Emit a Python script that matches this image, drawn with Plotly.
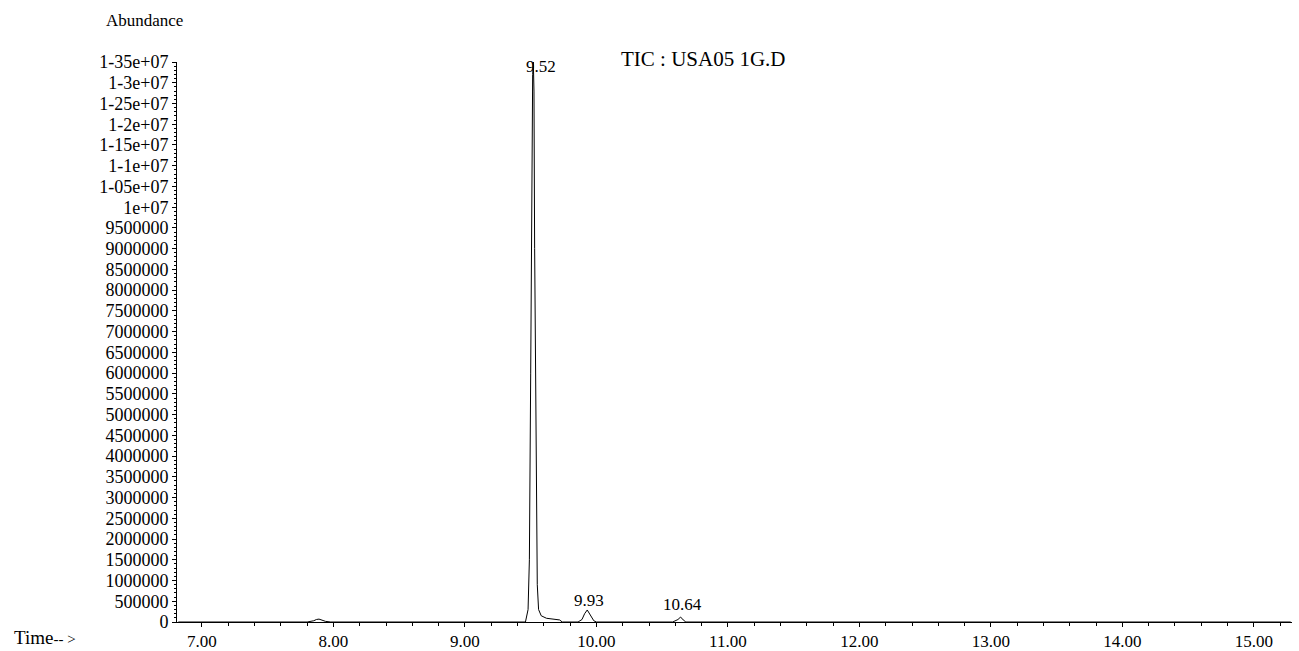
import plotly.graph_objects as go

# Chromatogram trace (time in min, abundance)
time_min = [6.82, 7.80, 7.85, 7.87, 7.89, 7.91, 7.94, 7.98, 9.40, 9.46, 9.48, 9.49, 9.50,
            9.51, 9.515, 9.52, 9.525, 9.53, 9.54, 9.55, 9.56, 9.58, 9.62, 9.68, 9.72, 9.74,
            9.86, 9.89, 9.91, 9.93, 9.95, 9.98, 10.00, 10.58, 10.62, 10.64, 10.66, 10.68,
            11.00, 12.00, 13.00, 14.00, 15.00, 15.28]
abundance = [0, 0, 30000, 60000, 70000, 40000, 15000, 0, 0, 0, 300000, 1500000, 6000000,
             11500000, 13200000, 13500000, 12800000, 9000000, 3500000, 900000, 300000,
             150000, 90000, 60000, 50000, 0,
             0, 60000, 200000, 290000, 180000, 30000, 0, 0, 60000, 120000, 50000, 0,
             0, 0, 0, 0, 0, 0]

peak_times = [9.52, 9.93, 10.64]
peak_labels = ["9.52", "9.93", "10.64"]
peak_label_heights = [13400000, 520000, 410000]

x_tick_vals = [7, 8, 9, 10, 11, 12, 13, 14, 15]
x_tick_text = ["7.00", "8.00", "9.00", "10.00", "11.00", "12.00", "13.00", "14.00", "15.00"]

y_tick_vals = [i * 500000 for i in range(28)]
y_tick_text = ["0", "500000", "1000000", "1500000", "2000000", "2500000", "3000000",
               "3500000", "4000000", "4500000", "5000000", "5500000", "6000000", "6500000",
               "7000000", "7500000", "8000000", "8500000", "9000000", "9500000", "1e+07",
               "1-05e+07", "1-1e+07", "1-15e+07", "1-2e+07", "1-25e+07", "1-3e+07", "1-35e+07"]

FONT = "Liberation Serif"

fig = go.Figure()
fig.add_trace(go.Scatter(x=time_min, y=abundance, mode="lines",
                         line=dict(color="black", width=1), showlegend=False,
                         hoverinfo="x+y"))

for t, lab, h in zip(peak_times, peak_labels, peak_label_heights):
    fig.add_annotation(x=t, y=h, xref="x", yref="y", text=lab, showarrow=False,
                       xanchor="center", yanchor="middle",
                       xshift=8 if lab == "9.52" else 2,
                       font=dict(family=FONT, size=17, color="black"))

fig.add_annotation(x=-0.0287, y=1.075, xref="paper", yref="paper", text="Abundance",
                   showarrow=False, xanchor="center", yanchor="middle",
                   font=dict(family=FONT, size=17, color="black"))
fig.add_annotation(x=0.4726, y=1.0054, xref="paper", yref="paper", text="TIC : USA05 1G.D",
                   showarrow=False, xanchor="center", yanchor="middle",
                   font=dict(family=FONT, size=21, color="black"))
fig.add_annotation(x=-0.148, y=-0.028, xref="paper", yref="paper",
                   text="Time<span style='font-size:15px'>-- ></span>",
                   showarrow=False, xanchor="left", yanchor="middle",
                   font=dict(family=FONT, size=19, color="black"))

fig.update_layout(
    width=1299, height=651,
    margin=dict(l=177, r=7, t=62, b=29, autoexpand=False),
    paper_bgcolor="white", plot_bgcolor="white",
    font=dict(family=FONT, size=18, color="black"),
    xaxis=dict(range=[6.81, 15.29], tickmode="array", tickvals=x_tick_vals,
               ticktext=x_tick_text, ticks="outside", ticklen=4, tickwidth=1,
               tickcolor="black", showline=True, linecolor="black", linewidth=1,
               showgrid=False, zeroline=False,
               tickfont=dict(family=FONT, size=17, color="black"),
               minor=dict(dtick=0.2, tick0=7, ticks="outside", ticklen=3,
                          tickcolor="black", showgrid=False)),
    yaxis=dict(range=[0, 13500000], tickmode="array", tickvals=y_tick_vals,
               ticktext=y_tick_text, ticks="outside", ticklen=4, tickwidth=1,
               tickcolor="black", showline=True, linecolor="black", linewidth=1,
               showgrid=False, zeroline=False,
               tickfont=dict(family=FONT, size=18, color="black"),
               minor=dict(dtick=100000, tick0=0, ticks="outside", ticklen=2,
                          tickcolor="black", showgrid=False)),
)

fig.write_html("out.html", config={"displayModeBar": False},
               post_script="document.body.style.margin='0';document.body.style.overflow='hidden';")
